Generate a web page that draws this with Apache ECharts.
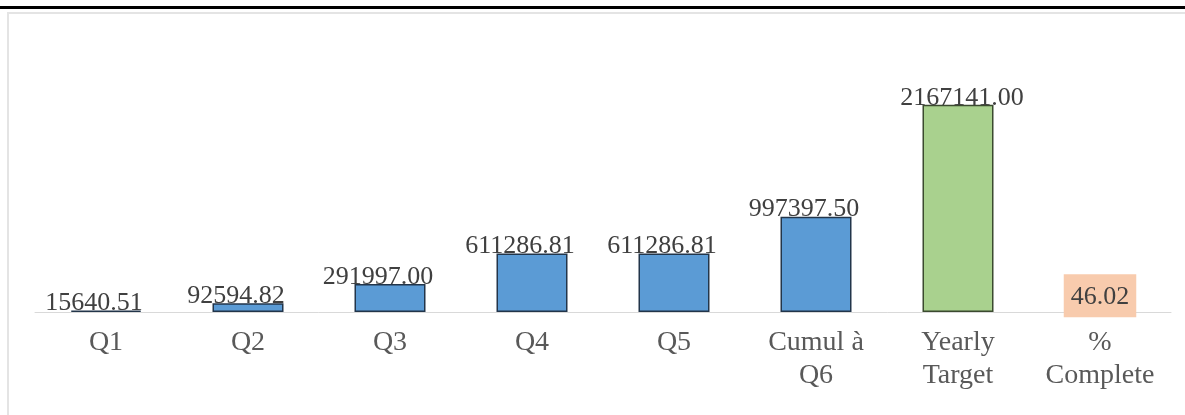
<!DOCTYPE html>
<html>
<head>
<meta charset="utf-8">
<script src="https://cdn.jsdelivr.net/npm/echarts@6/dist/echarts.min.js"></script>
<style>
html,body{margin:0;padding:0;background:#fff;}
#chart{width:1185px;height:415px;}
</style>
</head>
<body>
<div id="chart"></div>
<script>
var categories = ['Q1', 'Q2', 'Q3', 'Q4', 'Q5', 'Cumul à\nQ6', 'Yearly\nTarget', '%\nComplete'];
var values = [15640.51, 92594.82, 291997.00, 611286.81, 611286.81, 997397.50, 2167141.00, 46.02];
var kinds = ['quarter', 'quarter', 'quarter', 'quarter', 'quarter', 'quarter', 'target', 'percent'];

var chart = echarts.init(document.getElementById('chart'), null, {renderer: 'canvas'});

var styleFor = {
  quarter: {color: '#5b9bd5', borderColor: '#22354a'},
  target: {color: '#a9d18e', borderColor: '#3b4a2f'},
  percent: {color: 'rgba(0,0,0,0)', borderColor: 'rgba(0,0,0,0)'}
};

var data = values.map(function (v, i) {
  var k = kinds[i];
  var item = {
    value: v,
    itemStyle: {color: styleFor[k].color, borderColor: styleFor[k].borderColor, borderWidth: 1.5}
  };
  if (k === 'percent') {
    item.label = {
      backgroundColor: '#f8cbad',
      padding: [10, 7, 7, 7],
      distance: -6,
      offset: [0, 0],
      color: '#404040'
    };
  } else if (k === 'target') {
    item.label = {offset: [4, 0]};
  }
  return item;
});

chart.setOption({
  animation: false,
  backgroundColor: '#ffffff',
  graphic: [
    {type: 'rect', shape: {x: 0, y: 6, width: 1185, height: 3}, style: {fill: '#000000'}, silent: true},
    {type: 'rect', shape: {x: 8, y: 13, width: 1200, height: 430}, style: {fill: 'none', stroke: '#e4e4e4', lineWidth: 2}, silent: true}
  ],
  grid: {left: 35, right: 14, top: 73, height: 239, containLabel: false},
  xAxis: {
    type: 'category',
    data: categories,
    axisLine: {show: true, lineStyle: {color: '#d9d9d9', width: 1}},
    axisTick: {show: false},
    axisLabel: {
      interval: 0,
      margin: 14,
      color: '#595959',
      fontFamily: 'Liberation Serif',
      fontSize: 28,
      lineHeight: 33
    }
  },
  yAxis: {
    type: 'value',
    min: 0,
    max: 2500000,
    show: false,
    splitLine: {show: false}
  },
  series: [{
    type: 'bar',
    data: data,
    barWidth: '50%',
    label: {
      show: true,
      position: 'top',
      distance: -6,
      offset: [-12, 0],
      color: '#404040',
      fontFamily: 'Liberation Serif',
      fontSize: 26,
      lineHeight: 26,
      formatter: function (p) { return p.value.toFixed(2); }
    }
  }]
});
</script>
</body>
</html>
